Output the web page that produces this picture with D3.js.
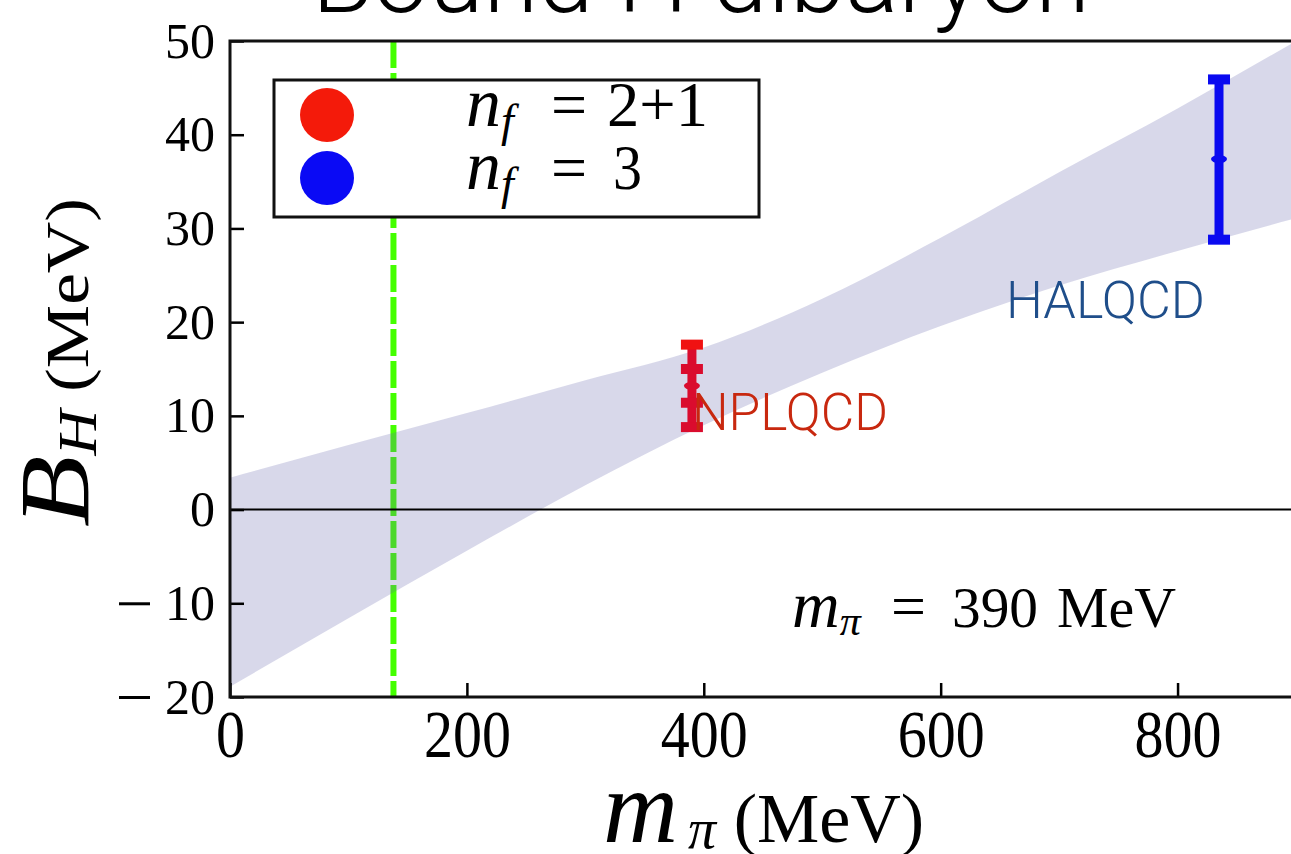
<!DOCTYPE html>
<html>
<head>
<meta charset="utf-8">
<script src="https://cdn.jsdelivr.net/npm/d3@7"></script>
<style>
  html, body { margin: 0; padding: 0; background: #fff; }
  svg { display: block; }
</style>
</head>
<body>
<svg id="chart" width="1291" height="854"></svg>
<script>
// ---------------- data ----------------
const xTicks = [0, 200, 400, 600, 800];
const yTicks = [-20, -10, 0, 10, 20, 30, 40, 50];

// chiral extrapolation band (m_pi in MeV, B_H in MeV)
const bandM     = [0, 100, 200, 300, 400, 500, 600, 700, 800, 900];
const bandUpper = [3.4, 6.9, 10.3, 13.8, 17.3, 22.5, 29.0, 36.0, 42.8, 50.0];
const bandLower = [-18.9, -11.6, -4.4, 2.6, 9.0, 14.6, 19.6, 23.9, 27.6, 31.1];

// physical pion mass line
const physicalMpi = 138;

// lattice points
const nplqcdM = 390, nplqcdB = 13.2, nplqcdStat = 1.8, nplqcdTot = 4.4;
const halqcdM = 835, halqcdB = 37.4, halqcdLo = 28.8, halqcdHi = 45.9;

const legendLabels = ["2+1", "3"];
const legendColors = ["#f41a0a", "#0a0af5"];

// ---------------- layout ----------------
const svg = d3.select("#chart");
const x = d3.scaleLinear().domain([0, 900]).range([230, 1296]);
const y = d3.scaleLinear().domain([-20, 50]).range([697, 41]);

const serif = "'Liberation Serif', 'Times New Roman', Times, serif";
const sans = "Roboto, 'Liberation Sans', Arial, sans-serif";

// title (cut at top)
svg.append("text")
  .attr("x", 312).attr("y", 12)
  .attr("font-family", sans).attr("font-weight", 300)
  .attr("font-size", 98)
  .attr("textLength", 778).attr("lengthAdjust", "spacingAndGlyphs")
  .text("Bound H dibaryon");

// physical pion mass dashed line
svg.append("line")
  .attr("x1", x(physicalMpi)).attr("x2", x(physicalMpi))
  .attr("y1", y(50)).attr("y2", y(-20))
  .attr("stroke", "#44ff00").attr("stroke-width", 6)
  .attr("stroke-dasharray", "27,5");

// band
const bandData = bandM.map((m, i) => ({ m, lo: bandLower[i], hi: bandUpper[i] }));
const area = d3.area()
  .x(d => x(d.m)).y0(d => y(d.lo)).y1(d => y(d.hi))
  .curve(d3.curveMonotoneX);
svg.append("path")
  .datum(bandData)
  .attr("d", area)
  .attr("fill", "rgb(99,99,171)")
  .attr("fill-opacity", 0.25);

// zero line
svg.append("line")
  .attr("x1", x(0)).attr("x2", 1291)
  .attr("y1", y(0)).attr("y2", y(0))
  .attr("stroke", "#000").attr("stroke-width", 2);

// error bars
function errorBar(m, lo, hi, color, capColorTop) {
  const g = svg.append("g");
  g.append("line")
    .attr("x1", x(m)).attr("x2", x(m))
    .attr("y1", y(hi)).attr("y2", y(lo))
    .attr("stroke", color).attr("stroke-width", 9);
  g.append("rect")
    .attr("x", x(m) - 11).attr("y", y(hi) - 5)
    .attr("width", 22).attr("height", 10)
    .attr("fill", capColorTop || color);
  g.append("rect")
    .attr("x", x(m) - 11).attr("y", y(lo) - 5)
    .attr("width", 22).attr("height", 10)
    .attr("fill", color);
  return g;
}
errorBar(nplqcdM, nplqcdB - nplqcdTot, nplqcdB + nplqcdTot, "#da0c2e", "#f01212");
[nplqcdB - nplqcdStat, nplqcdB + nplqcdStat].forEach(v => {
  svg.append("rect")
    .attr("x", x(nplqcdM) - 11).attr("y", y(v) - 5)
    .attr("width", 22).attr("height", 10)
    .attr("fill", "#da0c2e");
});
svg.append("ellipse")
  .attr("cx", x(nplqcdM)).attr("cy", y(nplqcdB))
  .attr("rx", 8).attr("ry", 4).attr("fill", "#da0c2e");

errorBar(halqcdM, halqcdLo, halqcdHi, "#0a0af0");
svg.append("ellipse")
  .attr("cx", x(halqcdM)).attr("cy", y(halqcdB))
  .attr("rx", 8).attr("ry", 4).attr("fill", "#0a0af0");

// labels
svg.append("text")
  .attr("x", 692).attr("y", 430)
  .attr("font-family", sans).attr("font-weight", 300)
  .attr("font-size", 52).attr("fill", "#c8280f")
  .attr("textLength", 196).attr("lengthAdjust", "spacingAndGlyphs")
  .text("NPLQCD");
svg.append("text")
  .attr("x", 1006).attr("y", 318)
  .attr("font-family", sans).attr("font-weight", 300)
  .attr("font-size", 52).attr("fill", "#1f4e8a")
  .attr("textLength", 199).attr("lengthAdjust", "spacingAndGlyphs")
  .text("HALQCD");

// m_pi = 390 MeV annotation
const ann = svg.append("text")
  .attr("x", 792).attr("y", 627)
  .attr("font-family", serif).attr("font-size", 60);
ann.append("tspan").attr("font-style", "italic").attr("font-size", 66).text("m");
ann.append("tspan").attr("font-style", "italic").attr("font-size", 42).attr("dy", 8).text("π");
svg.append("text").attr("x", 891).attr("y", 627)
  .attr("font-family", serif).attr("font-size", 62).text("=");
svg.append("text").attr("x", 952).attr("y", 627)
  .attr("font-family", serif).attr("font-size", 58)
  .attr("textLength", 86).attr("lengthAdjust", "spacingAndGlyphs").text("390");
svg.append("text").attr("x", 1057).attr("y", 627)
  .attr("font-family", serif).attr("font-size", 58)
  .attr("textLength", 119).attr("lengthAdjust", "spacingAndGlyphs").text("MeV");

// axes
const yAxis = d3.axisLeft(y).tickValues(yTicks).tickSize(-14).tickPadding(15)
  .tickFormat(d => String(Math.abs(d)));
const gy = svg.append("g").attr("transform", `translate(${x(0)},0)`).call(yAxis);
gy.select(".domain").remove();
gy.selectAll(".tick line").attr("stroke", "#000").attr("stroke-width", 2.5);
gy.selectAll(".tick text").attr("font-family", serif).attr("font-size", 50).attr("fill", "#000");
// long minus signs for negative ticks
gy.selectAll(".tick").filter(d => d < 0).append("rect")
  .attr("x", -111).attr("y", -1.5).attr("width", 31).attr("height", 3)
  .attr("fill", "#000");

const xAxis = d3.axisBottom(x).tickValues(xTicks).tickSize(-14).tickPadding(0);
const gx = svg.append("g").attr("transform", `translate(0,${y(-20)})`).call(xAxis);
gx.select(".domain").remove();
gx.selectAll(".tick line").attr("stroke", "#000").attr("stroke-width", 2.5);
gx.selectAll(".tick text")
  .attr("font-family", serif).attr("font-size", 58).attr("fill", "#000")
  .attr("y", null).attr("dy", null)
  .attr("transform", "translate(0,60) scale(1,1.17)");

// frame
svg.append("rect")
  .attr("x", x(0)).attr("y", y(50))
  .attr("width", x(900) - x(0)).attr("height", y(-20) - y(50))
  .attr("fill", "none").attr("stroke", "#111").attr("stroke-width", 3);

// legend
svg.append("rect")
  .attr("x", 274).attr("y", 80).attr("width", 485).attr("height", 137)
  .attr("fill", "#fff").attr("stroke", "#111").attr("stroke-width", 3);
const legendRows = [126, 189];
legendLabels.forEach((lab, i) => {
  svg.append("circle")
    .attr("cx", 327).attr("cy", legendRows[i] - 11).attr("r", 27)
    .attr("fill", legendColors[i]);
  const t = svg.append("text")
    .attr("x", 466).attr("y", legendRows[i])
    .attr("font-family", serif).attr("font-size", 64);
  t.append("tspan").attr("font-style", "italic").attr("font-size", 70).text("n");
  t.append("tspan").attr("font-style", "italic").attr("font-size", 46).attr("dy", 10).text("f");
  svg.append("text")
    .attr("x", 551).attr("y", legendRows[i])
    .attr("font-family", serif).attr("font-size", 64).text("=");
  svg.append("text")
    .attr("x", i === 0 ? 607 : 613).attr("y", legendRows[i])
    .attr("font-family", serif).attr("font-size", 64)
    .attr("textLength", i === 0 ? 101 : 29).attr("lengthAdjust", "spacingAndGlyphs")
    .text(lab);
});

// axis titles
const yt = svg.append("text")
  .attr("transform", "translate(88,527) scale(1,1.17) rotate(-90)")
  .attr("font-family", serif).attr("font-size", 61);
yt.append("tspan").attr("font-style", "italic").attr("font-size", 100).text("B");
yt.append("tspan").attr("font-style", "italic").attr("font-size", 54).attr("dy", 8).text("H");
yt.append("tspan").attr("dy", -8).attr("font-weight", 400).text(" (MeV)");

const xt = svg.append("text")
  .attr("x", 603).attr("y", 842)
  .attr("font-family", serif).attr("font-size", 70);
xt.append("tspan").attr("font-style", "italic").attr("font-size", 104).text("m");
xt.append("tspan").attr("font-style", "italic").attr("font-size", 56).attr("dx", 10).attr("dy", 6).text("π");
xt.append("tspan").attr("dy", -6).text(" (MeV)");
</script>
</body>
</html>
